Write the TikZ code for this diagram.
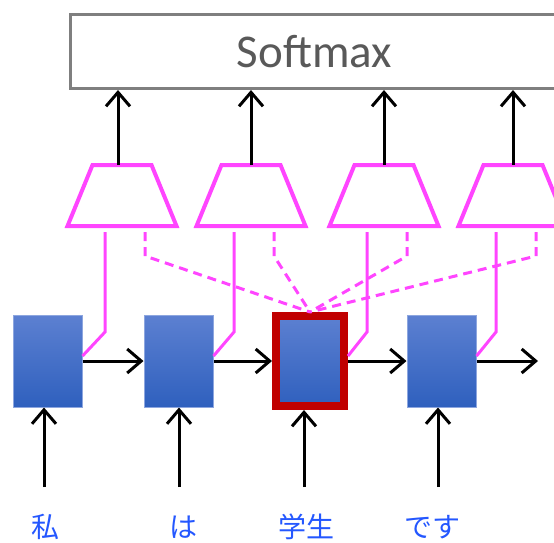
\documentclass[tikz,border=0pt]{standalone}
\usepackage{fontspec}
\setsansfont{Carlito}
\newfontfamily\jpfont{Noto Sans CJK JP}
\usetikzlibrary{arrows.meta}
\definecolor{attncol}{HTML}{FF45FF}
\definecolor{cellhi}{HTML}{5C80D1}
\definecolor{celllo}{HTML}{2F60BE}
\definecolor{wordcol}{HTML}{2457FF}
\definecolor{softgray}{HTML}{7F7F7F}
\definecolor{softtext}{HTML}{595959}
\definecolor{focusred}{HTML}{C00000}

\begin{document}
\begin{tikzpicture}[x=1pt, y=-1pt, line join=miter,
	cell/.style={rectangle, draw=cellhi!70!white, line width=1pt, top color=cellhi, bottom color=celllo, minimum width=69, minimum height=92, inner sep=0pt},
	decoder/.style={rectangle, minimum width=105, minimum height=57, inner sep=0pt, outer sep=2pt},
	arr/.style={-{Straight Barb[length=14pt, width=24pt]}, line width=3pt},
	attn/.style={draw=attncol, line width=3pt},
	word/.style={font=\jpfont\fontsize{28}{34}\selectfont, text=wordcol, inner sep=0pt}]
	
	\useasboundingbox (0, 0) rectangle (554, 542);
	
	% Softmax oben
	\node[draw=softgray, line width=3pt, minimum width=488, minimum height=74, font=\sffamily\fontsize{47}{56}\selectfont, text=softtext] (soft) at (314.5, 51.5) {Softmax};
	
	% Ausgabeschichten (Trapeze)
	\node[decoder] (d1) at (122, 195.5) {};
	\node[decoder] (d2) at (251, 195.5) {};
	\node[decoder] (d3) at (384, 195.5) {};
	\node[decoder] (d4) at (513, 195.5) {};
	\foreach \i in {1,...,4}
		\draw[draw=attncol, line width=4pt] (d\i.south west) -- ([xshift=25pt]d\i.north west) -- ([xshift=-25pt]d\i.north east) -- (d\i.south east) -- cycle;
	
	% Zustaende
	\node[cell] (c1) at (47.5, 361) {};
	\node[cell] (c2) at (178.5, 361) {};
	\node[cell, draw=focusred, line width=8pt, minimum width=68, minimum height=90] (c3) at (310, 361) {};
	\node[cell] (c4) at (441.5, 361) {};
	\coordinate (out) at (538, 361);
	
	% Eingabewoerter
	\node[word] (w1) at (45, 527) {私};
	\node[word] (w2) at (183, 527) {は};
	\node[word] (w3) at (306, 527) {学生};
	\node[word] (w4) at (432, 527) {です};
	\coordinate (in1) at (44, 487);
	\coordinate (in2) at (179, 487);
	\coordinate (in3) at (304, 487);
	\coordinate (in4) at (438, 487);
	
	% Pfeile
	\draw[arr] ([xshift=-4pt]d1.north) -- ([xshift=-4pt]d1.north |- soft.south);
	\draw[arr] (d2.north) -- (d2.north |- soft.south);
	\draw[arr] (d3.north) -- (d3.north |- soft.south);
	\draw[arr] (d4.north) -- (d4.north |- soft.south);
	\draw[arr] (c1.east) -- (c2.west);
	\draw[arr] (c2.east) -- (c3.west);
	\draw[arr] (c3.east) -- (c4.west);
	\draw[arr] (c4.east) -- (out);
	\draw[arr] (in1) -- (in1 |- c1.south);
	\draw[arr] (in2) -- (in2 |- c2.south);
	\draw[arr] (in3) -- (in3 |- c3.south);
	\draw[arr] (in4) -- (in4 |- c4.south);
	
	% Attention
	\foreach \i in {1,...,4} {
		\draw[attn] ([shift={(-17, 6)}]d\i.south) coordinate (s) -- (s |- 0, 332) -- ([yshift=5pt]c\i.east);
		\draw[attn, dash pattern=on 9pt off 6pt] ([shift={(23, 6)}]d\i.south) coordinate (t) -- (t |- 0, 256) -- (c3.north);
	}
\end{tikzpicture}
\end{document}
